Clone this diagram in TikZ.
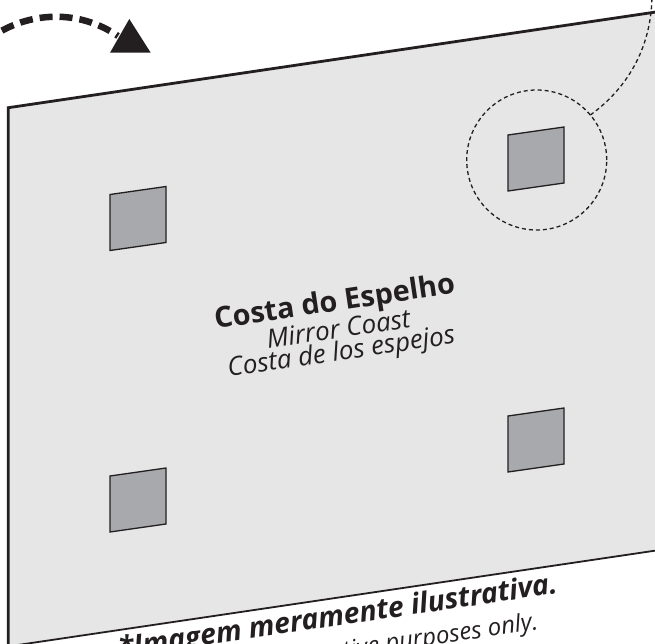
\documentclass[tikz,border=0pt]{standalone}
\usepackage{fontspec}
\setmainfont{Open Sans}
\definecolor{ink}{HTML}{231F20}
\definecolor{panelgray}{HTML}{E6E6E6}
\definecolor{wingray}{HTML}{A7A9AC}
\tikzset{
  winbox/.style={draw=ink, fill=wingray, line width=1.3pt, line join=miter},
  winpic/.pic={\draw[winbox] (0,0) -- (56,-8) -- (56,48) -- (0,56) -- cycle;},
  thickedge/.style={draw=ink, line width=2.8pt, line join=miter},
  thinedge/.style={draw=ink, line width=1.8pt},
  bigdash/.style={draw=ink, line width=6.5pt, dash pattern=on 13pt off 7pt, dash phase=6pt},
  smalldash/.style={draw=ink, line width=1.3pt, dash pattern=on 4pt off 3pt},
  lbl/.style={text=ink, inner sep=0pt, anchor=base, rotate=8.4},
}
\begin{document}
\begin{tikzpicture}[x=1pt,y=-1pt]
\useasboundingbox (0,0) rectangle (655,644);
\clip (0,0) rectangle (655,644);
% panel
\coordinate (ptl) at (8.3,107.7);
\coordinate (ptr) at (700,5.5);
\coordinate (pbr) at (700,544);
\coordinate (pbl) at (8.3,646.4);
\fill[panelgray] (ptl) -- (ptr) -- (pbr) -- (pbl) -- cycle;
\draw[thinedge] (pbl) -- (pbr);
\draw[thickedge] (pbl) -- (ptl) -- (ptr);
% windows
\pic at (110,194.5) {winpic};
\pic at (508,135) {winpic};
\pic at (110,476) {winpic};
\pic at (508,416) {winpic};
% magnifier circle and its tail
\node[circle, smalldash, minimum size=140pt, inner sep=0pt, outer sep=0pt] (lens) at (536.7,160) {};
\coordinate (tailend) at (652,-6);
\draw[smalldash] (lens.40) .. controls (625,90) and (652,50) .. (tailend);
% rotation arrow
\coordinate (arrstart) at (-10,38);
\coordinate (arrend) at (118,36);
\draw[bigdash] (arrstart) .. controls (30,10) and (80,10) .. (arrend);
\coordinate (tipA) at (129.3,19);
\coordinate (tipB) at (150.7,52.7);
\coordinate (tipC) at (110,52.7);
\fill[ink] (tipA) -- (tipB) -- (tipC) -- cycle;
% title
\node[lbl, font=\fontsize{28.8}{34}\selectfont\bfseries] (t1) at (336,311) {Costa do Espelho};
\node[lbl, font=\fontsize{26}{30}\selectfont\itshape] (t2) at (339.7,338) {Mirror Coast};
\node[lbl, font=\fontsize{26}{30}\selectfont\itshape] (t3) at (342.5,360) {Costa de los espejos};
% footnote
\node[lbl, font=\fontsize{28.5}{34}\selectfont\bfseries\itshape] (f1) at (339,625.5) {*Imagem meramente ilustrativa.};
\node[lbl, font=\fontsize{24}{29}\selectfont\itshape] (f2) at (345,658) {*Image for illustrative purposes only.};
\end{tikzpicture}
\end{document}
